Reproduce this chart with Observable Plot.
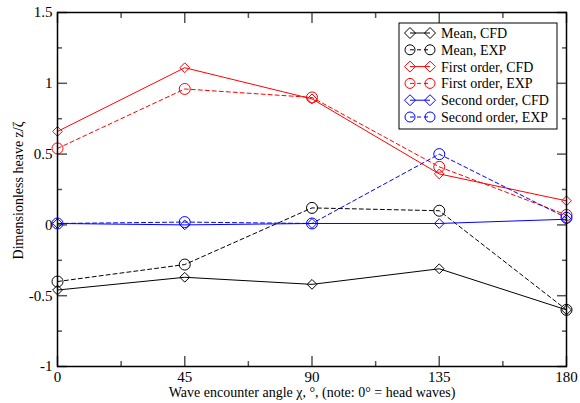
<!DOCTYPE html>
<html>
<head>
<meta charset="utf-8">
<script src="https://cdn.jsdelivr.net/npm/d3@7"></script>
<script src="https://cdn.jsdelivr.net/npm/@observablehq/plot@0.6"></script>
<style>
  html, body { margin: 0; padding: 0; background: white; }
</style>
</head>
<body>
<div id="chart"></div>
<script>
const angles = [0, 45, 90, 135, 180];
const meanCFD   = [-0.46, -0.37, -0.42, -0.31, -0.60];
const meanEXP   = [-0.40, -0.28,  0.12,  0.10, -0.60];
const firstCFD  = [ 0.66,  1.11,  0.89,  0.36,  0.17];
const firstEXP  = [ 0.54,  0.96,  0.90,  0.41,  0.07];
const secondCFD = [ 0.01,  0.00,  0.01,  0.01,  0.04];
const secondEXP = [ 0.01,  0.02,  0.01,  0.50,  0.05];

const seriesNames = ["Mean, CFD", "Mean, EXP", "First order, CFD", "First order, EXP", "Second order, CFD", "Second order, EXP"];
const seriesValues = [meanCFD, meanEXP, firstCFD, firstEXP, secondCFD, secondEXP];
const seriesColors = ["black", "black", "red", "red", "blue", "blue"];
const seriesDashed = [false, true, false, true, false, true];

const xMajor = [0, 45, 90, 135, 180];
const xMinor = [22.5, 67.5, 112.5, 157.5];
const yMajor = [-1, -0.5, 0, 0.5, 1, 1.5];
const yMinor = [-0.75, -0.25, 0.25, 0.75, 1.25];

const xTitle = "Wave encounter angle χ, °, (note: 0° = head waves)";
const yTitle = "Dimensionless heave z/ζ";

const rows = [];
seriesNames.forEach((name, i) => {
  angles.forEach((a, j) => rows.push({series: name, angle: a, value: seriesValues[i][j]}));
});

const tickStroke = "#555";
const marks = [];
marks.push(
  Plot.axisX({anchor: "bottom", ticks: xMajor, tickSize: -10, tickPadding: 15, tickFormat: d => String(d), stroke: tickStroke, strokeWidth: 1.5, fill: "black", label: null, fontSize: 15}),
  Plot.axisX({anchor: "bottom", ticks: xMinor, tickSize: -5, tickFormat: () => "", stroke: tickStroke, strokeWidth: 1.5, label: null}),
  Plot.axisX({anchor: "top", ticks: xMajor, tickSize: -10, tickFormat: () => "", stroke: tickStroke, strokeWidth: 1.5, label: null}),
  Plot.axisX({anchor: "top", ticks: xMinor, tickSize: -5, tickFormat: () => "", stroke: tickStroke, strokeWidth: 1.5, label: null}),
  Plot.axisY({anchor: "left", ticks: yMajor, tickSize: -10, tickPadding: 15, tickFormat: d => String(d), stroke: tickStroke, strokeWidth: 1.5, fill: "black", label: null, fontSize: 15}),
  Plot.axisY({anchor: "left", ticks: yMinor, tickSize: -5, tickFormat: () => "", stroke: tickStroke, strokeWidth: 1.5, label: null}),
  Plot.axisY({anchor: "right", ticks: yMajor, tickSize: -10, tickFormat: () => "", stroke: tickStroke, strokeWidth: 1.5, label: null}),
  Plot.axisY({anchor: "right", ticks: yMinor, tickSize: -5, tickFormat: () => "", stroke: tickStroke, strokeWidth: 1.5, label: null})
);
seriesNames.forEach((name, i) => {
  const data = rows.filter(r => r.series === name);
  marks.push(Plot.line(data, {x: "angle", y: "value", stroke: seriesColors[i], strokeWidth: 1, strokeDasharray: seriesDashed[i] ? "4,3" : null}));
  marks.push(Plot.dot(data, {x: "angle", y: "value", stroke: seriesColors[i], fill: "none", strokeWidth: 1, symbol: seriesDashed[i] ? "circle" : "diamond2", r: seriesDashed[i] ? 5.5 : 4.4}));
});
marks.push(
  Plot.frame({stroke: "black", strokeWidth: 1.5}),
  Plot.text([xTitle], {frameAnchor: "bottom", dy: 26, lineAnchor: "middle", textAnchor: "middle", fontSize: 14, fill: "black"}),
  Plot.text([yTitle], {frameAnchor: "left", dx: -39, dy: 1, rotate: -90, lineAnchor: "middle", textAnchor: "middle", fontSize: 14, fill: "black"})
);

const chart = Plot.plot({
  width: 580,
  height: 403,
  marginLeft: 57,
  marginRight: 14,
  marginTop: 12,
  marginBottom: 37,
  x: {domain: [0, 180]},
  y: {domain: [-1, 1.5]},
  style: {fontFamily: "'Liberation Serif', 'DejaVu Serif', serif", fontSize: "14px", background: "white", overflow: "visible"},
  marks
});
document.getElementById("chart").appendChild(chart);

// Legend inside plot
const svg = d3.select(chart);
const lg = svg.append("g").attr("font-family", "'Liberation Serif', serif").attr("font-size", 14).attr("text-anchor", "start");
const bx = 399, by = 23, bw = 158, bh = 106, rowH = 16.8;
lg.append("rect").attr("x", bx).attr("y", by).attr("width", bw).attr("height", bh).attr("fill", "white").attr("stroke", "black").attr("stroke-width", 1);
seriesNames.forEach((name, i) => {
  const cy = by + 10 + i * rowH;
  const x1 = 410, x2 = 430;
  lg.append("line").attr("x1", x1).attr("x2", x2).attr("y1", cy).attr("y2", cy)
    .attr("stroke", seriesColors[i]).attr("stroke-width", 1).attr("stroke-dasharray", seriesDashed[i] ? "4,3" : null);
  [x1, x2].forEach(x => {
    if (seriesDashed[i]) {
      lg.append("circle").attr("cx", x).attr("cy", cy).attr("r", 5).attr("fill", "none").attr("stroke", seriesColors[i]);
    } else {
      lg.append("path").attr("d", `M${x - 5.5},${cy}L${x},${cy - 5.5}L${x + 5.5},${cy}L${x},${cy + 5.5}Z`).attr("fill", "none").attr("stroke", seriesColors[i]);
    }
  });
  lg.append("text").attr("x", 441).attr("y", cy).attr("dy", "0.35em").attr("fill", "black").attr("text-anchor", "start").text(name);
});
</script>
</body>
</html>
